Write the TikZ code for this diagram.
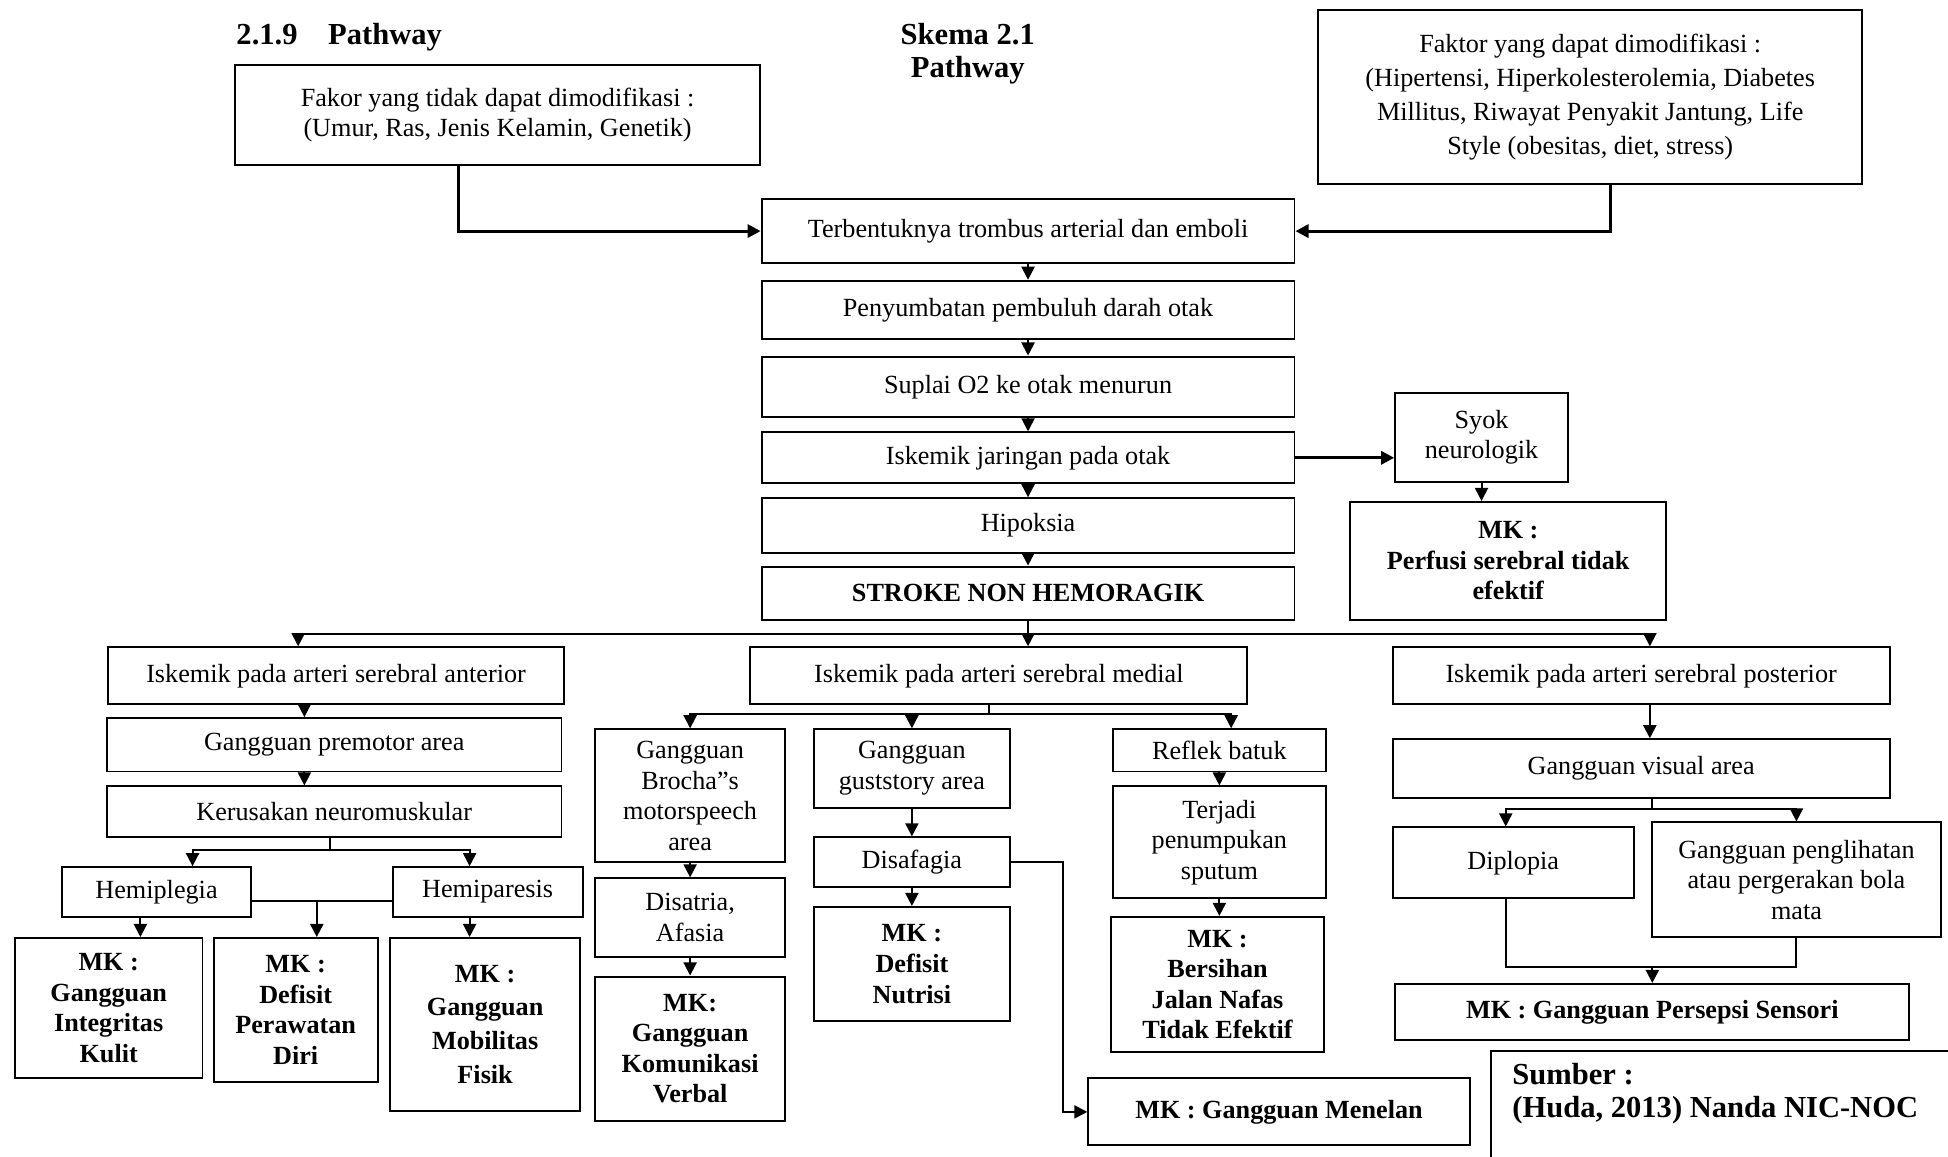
\documentclass[tikz,border=0pt]{standalone}
\usepackage{fontspec}
\setmainfont{Liberation Serif}
\usetikzlibrary{arrows.meta}

\tikzset{
  box/.style={draw, line width=0.9pt, align=center, inner sep=2pt,
    font=\fontsize{12}{14}\selectfont},
  mkbox/.style={box, font=\fontsize{12}{14}\selectfont\bfseries},
  arr/.style={line width=0.9pt, -{Triangle[length=6pt,width=6pt]}},
  heavy/.style={line width=1.4pt},
  link/.style={line width=0.9pt},
  heading/.style={inner sep=0pt, font=\fontsize{14}{15}\selectfont\bfseries}
}

\begin{document}
\begin{tikzpicture}[x=0.02cm, y=-0.02cm]
        \useasboundingbox (0,0) rectangle (1568,931);

        % headings
        \node [heading, anchor=west] (num) at (190,30) {2.1.9\quad Pathway};
        \node [heading, align=center] (skema) at (779,43) {Skema 2.1\\Pathway};

        % risk factors
        \node [box, minimum width=8.46cm, minimum height=1.62cm] (fakor) at (400.5,92.5)
          {Fakor yang tidak dapat dimodifikasi :\\(Umur, Ras, Jenis Kelamin, Genetik)};
        \node [box, minimum width=8.76cm, minimum height=2.80cm,
          font=\fontsize{12}{15.5}\selectfont] (faktor) at (1280,78)
          {Faktor yang dapat dimodifikasi :\\(Hipertensi, Hiperkolesterolemia, Diabetes\\
           Millitus, Riwayat Penyakit Jantung, Life\\Style (obesitas, diet, stress)};

        % main chain
        \node [box, minimum width=8.58cm, minimum height=1.04cm] (trombus) at (827.5,186)
          {Terbentuknya trombus arterial dan emboli};
        \node [box, minimum width=8.58cm, minimum height=0.94cm] (sumbat) at (827.5,249.5)
          {Penyumbatan pembuluh darah otak};
        \node [box, minimum width=8.58cm, minimum height=0.98cm] (suplai) at (827.5,311.5)
          {Suplai O2 ke otak menurun};
        \node [box, minimum width=8.58cm, minimum height=0.82cm] (iskemik) at (827.5,368.5)
          {Iskemik jaringan pada otak};
        \node [box, minimum width=8.58cm, minimum height=0.88cm] (hipoksia) at (827.5,423)
          {Hipoksia};
        \node [box, minimum width=8.58cm, minimum height=0.86cm, font=\fontsize{12}{14}\selectfont\bfseries]
          (stroke) at (827.5,477.5) {STROKE NON HEMORAGIK};

        % syok
        \node [box, minimum width=2.78cm, minimum height=1.44cm] (syok) at (1192.5,352)
          {Syok\\neurologik};
        \node [mkbox, minimum width=5.08cm, minimum height=1.90cm] (perfusi) at (1214,451.5)
          {MK :\\Perfusi serebral tidak\\efektif};

        % three branches
        \node [box, minimum width=7.34cm, minimum height=0.92cm] (anterior) at (270.5,544)
          {Iskemik pada arteri serebral anterior};
        \node [box, minimum width=8.00cm, minimum height=0.92cm] (medial) at (804,544)
          {Iskemik pada arteri serebral medial};
        \node [box, minimum width=8.00cm, minimum height=0.92cm] (posterior) at (1321,544)
          {Iskemik pada arteri serebral posterior};

        % anterior
        \node [box, minimum width=7.32cm, minimum height=0.86cm] (premotor) at (269,599.5)
          {Gangguan premotor area};
        \node [box, minimum width=7.32cm, minimum height=0.82cm] (kerusakan) at (269,653.5)
          {Kerusakan neuromuskular};
        \node [box, minimum width=3.04cm, minimum height=0.80cm] (hemiplegia) at (126,718)
          {Hemiplegia};
        \node [box, minimum width=3.06cm, minimum height=0.80cm] (hemiparesis) at (392.5,718)
          {Hemiparesis};
        \node [mkbox, minimum width=3.02cm, minimum height=2.26cm] (integritas) at (87.5,811.5)
          {MK :\\Gangguan\\Integritas\\Kulit};
        \node [mkbox, minimum width=2.64cm, minimum height=2.32cm] (defisit) at (238,813)
          {MK :\\Defisit\\Perawatan\\Diri};
        \node [mkbox, minimum width=3.06cm, minimum height=2.78cm,
          font=\fontsize{12}{15.5}\selectfont\bfseries] (mobilitas) at (390.5,824.5)
          {MK :\\Gangguan\\Mobilitas\\Fisik};

        % medial
        \node [box, minimum width=3.06cm, minimum height=2.14cm] (brocha) at (555.5,640.5)
          {Gangguan\\Brocha”s\\motorspeech\\area};
        \node [box, minimum width=3.06cm, minimum height=1.26cm] (disatria) at (555.5,738.5)
          {Disatria,\\Afasia};
        \node [mkbox, minimum width=3.06cm, minimum height=2.32cm] (komunikasi) at (555.5,844)
          {MK:\\Gangguan\\Komunikasi\\Verbal};
        \node [box, minimum width=3.16cm, minimum height=1.26cm] (gust) at (734,618.5)
          {Gangguan\\guststory area};
        \node [box, minimum width=3.16cm, minimum height=0.80cm] (disafagia) at (734,694)
          {Disafagia};
        \node [mkbox, minimum width=3.16cm, minimum height=1.84cm] (nutrisi) at (734,776)
          {MK :\\Defisit\\Nutrisi};
        \node [mkbox, minimum width=6.14cm, minimum height=1.08cm] (menelan) at (1029.5,895)
          {MK : Gangguan Menelan};
        \node [box, minimum width=3.42cm, minimum height=0.68cm] (reflek) at (981.5,604)
          {Reflek batuk};
        \node [box, minimum width=3.42cm, minimum height=1.80cm] (sputum) at (981.5,678)
          {Terjadi\\penumpukan\\sputum};
        \node [mkbox, minimum width=3.44cm, minimum height=2.18cm] (bersihan) at (980,792.5)
          {MK :\\Bersihan\\Jalan Nafas\\Tidak Efektif};

        % posterior
        \node [box, minimum width=8.00cm, minimum height=0.94cm] (visual) at (1321,618.5)
          {Gangguan visual area};
        \node [box, minimum width=3.88cm, minimum height=1.14cm] (diplopia) at (1218,694.5)
          {Diplopia};
        \node [box, minimum width=4.64cm, minimum height=1.84cm] (penglihatan) at (1446,708)
          {Gangguan penglihatan\\atau pergerakan bola\\mata};
        \node [mkbox, minimum width=8.28cm, minimum height=0.90cm] (persepsi) at (1330,814.5)
          {MK : Gangguan Persepsi Sensori};

        % source
        \node [heading, anchor=west, align=left] (sumber) at (1217,880)
          {Sumber :\\(Huda, 2013) Nanda NIC-NOC};
        \draw [link] (1568,846) -| (1200,931);

        % factors into the chain
        \draw [arr, heavy] ([xshift=-0.63cm]fakor.south) |- (trombus.west);
        \draw [arr, heavy] ([xshift=0.32cm]faktor.south) |- (trombus.east);

        % the chain
        \draw [arr] (trombus) -- (sumbat);
        \draw [arr] (sumbat) -- (suplai);
        \draw [arr] (suplai) -- (iskemik);
        \draw [arr] (iskemik) -- (hipoksia);
        \draw [arr] (hipoksia) -- (stroke);
        \draw [arr, heavy] (iskemik.east) -- (iskemik.east -| syok.west);
        \draw [arr] (syok.south) -- (syok.south |- perfusi.north);

        % split below stroke
        \coordinate (split) at (827.5,510);
        \draw [link] (stroke.south) -- (split);
        \draw [arr] (split) -| ([xshift=-0.61cm]anterior.north);
        \draw [arr] (split) -- (medial.north -| split);
        \draw [arr] (split) -| ([xshift=0.14cm]posterior.north);

        % anterior arrows
        \draw [arr] ([xshift=-0.51cm]anterior.south) -- ([xshift=-0.51cm]anterior.south |- premotor.north);
        \draw [arr] ([xshift=-0.48cm]premotor.south) -- ([xshift=-0.48cm]premotor.south |- kerusakan.north);
        \coordinate (ksplit) at (266,684);
        \draw [link] (kerusakan.south -| ksplit) -- (ksplit);
        \draw [arr] (ksplit) -| ([xshift=0.58cm]hemiplegia.north);
        \draw [arr] (ksplit) -| ([xshift=-0.29cm]hemiparesis.north);
        \draw [link] ([yshift=-0.14cm]hemiplegia.east) -- ([yshift=-0.14cm]hemiparesis.west);
        \coordinate (hsplit) at (255,725);
        \draw [arr] (hsplit) -- (hsplit |- defisit.north);
        \draw [arr] ([xshift=-0.26cm]hemiplegia.south) -- ([xshift=-0.26cm]hemiplegia.south |- integritas.north);
        \draw [arr] ([xshift=-0.29cm]hemiparesis.south) -- ([xshift=-0.29cm]hemiparesis.south |- mobilitas.north);

        % medial arrows
        \coordinate (msplit) at (796,575);
        \draw [link] (medial.south -| msplit) -- (msplit);
        \draw [arr] (msplit) -| (brocha.north);
        \draw [arr] (msplit) -| (gust.north);
        \draw [arr] (msplit) -| ([xshift=0.19cm]reflek.north);
        \draw [arr] (brocha) -- (disatria);
        \draw [arr] (disatria) -- (komunikasi);
        \draw [arr] (gust) -- (disafagia);
        \draw [arr] (disafagia) -- (nutrisi);
        \draw [arr] (disafagia.east) -- ++(0.84cm,0) |- (menelan.west);
        \draw [arr] (reflek) -- (sputum);
        \draw [arr] (sputum.south) -- (sputum.south |- bersihan.north);

        % posterior arrows
        \draw [arr] ([xshift=0.14cm]posterior.south) -- ([xshift=0.14cm]posterior.south |- visual.north);
        \coordinate (vsplit) at (1330,651);
        \draw [link] (visual.south -| vsplit) -- (vsplit);
        \draw [arr] (vsplit) -| ([xshift=-0.12cm]diplopia.north);
        \draw [arr] (vsplit) -| (penglihatan.north);
        \coordinate (vjoin) at (1330,778);
        \draw [link] ([xshift=-0.12cm]diplopia.south) |- (vjoin) -| (penglihatan.south);
        \draw [arr] (vjoin) -- (vjoin |- persepsi.north);

      \end{tikzpicture}
\end{document}
